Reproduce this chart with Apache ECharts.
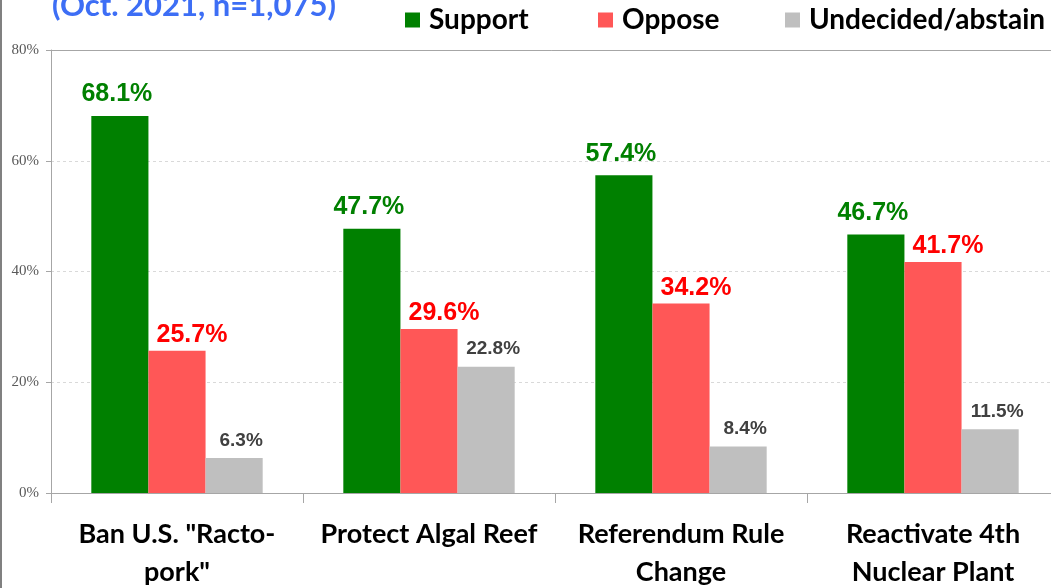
<!DOCTYPE html>
<html>
<head>
<meta charset="utf-8">
<script src="https://cdn.jsdelivr.net/npm/echarts@6/dist/echarts.min.js"></script>
<style>html,body{margin:0;padding:0;background:#fff;}#c{width:1051px;height:588px;}</style>
</head>
<body>
<div id="c"></div>
<script>
const categories = ['Ban U.S. "Racto-\npork"', 'Protect Algal Reef', 'Referendum Rule\nChange', 'Reactivate 4th\nNuclear Plant'];
const support = [68.1, 47.7, 57.4, 46.7];
const oppose = [25.7, 29.6, 34.2, 41.7];
const undecided = [6.3, 22.8, 8.4, 11.5];
const yTicks = [0, 20, 40, 60, 80];
const seriesNames = ['Support', 'Oppose', 'Undecided/abstain'];

const chart = echarts.init(document.getElementById('c'));
const legendFont = { fontFamily: 'Lato', fontWeight: 'bold', fontSize: 28, color: '#000' };
function mkLegend(name, left) {
  return { data: [name], left: left, top: 6, padding: 0, itemWidth: 15, itemHeight: 15, icon: 'rect',
    textStyle: Object.assign({ padding: [0, 0, 0, 4] }, legendFont), selectedMode: false };
}
chart.setOption({
  animation: false,
  graphic: [
    { type: 'rect', left: 0, top: 0, shape: { width: 2, height: 588 }, style: { fill: '#808080' } },
    { type: 'text', x: 52, y: 6, style: { text: '(Oct. 2021, n=1,075)', fill: '#3D6EF5',
      font: 'bold 31px Lato', textAlign: 'left', textVerticalAlign: 'middle' } }
  ],
  legend: [mkLegend(seriesNames[0], 405), mkLegend(seriesNames[1], 598), mkLegend(seriesNames[2], 785)],
  grid: { left: 51, width: 1008, top: 50, bottom: 95, outerBoundsMode: 'none', containLabel: false },
  xAxis: [{
    type: 'category', data: categories,
    axisLine: { lineStyle: { color: '#A6A6A6', width: 1 } },
    axisTick: { show: true, length: 10, lineStyle: { color: '#A6A6A6' } },
    axisLabel: { interval: 0, margin: 22, lineHeight: 38, fontFamily: 'Lato', fontWeight: 'bold', fontSize: 27, color: '#000' }
  }, {
    type: 'category', data: categories, position: 'top',
    axisLine: { show: true, lineStyle: { color: '#A6A6A6' } },
    axisTick: { show: false }, axisLabel: { show: false }
  }],
  yAxis: {
    type: 'value', min: yTicks[0], max: yTicks[yTicks.length - 1], interval: 20,
    axisLine: { show: true, lineStyle: { color: '#A6A6A6' } },
    axisTick: { show: true, length: 5, lineStyle: { color: '#A6A6A6' } },
    axisLabel: { formatter: '{value}%', margin: 12, fontFamily: 'Liberation Serif', fontSize: 15, color: '#595959' },
    splitLine: { show: true, lineStyle: { color: '#D9D9D9', type: [3, 3] } }
  },
  series: [
    { name: seriesNames[0], type: 'bar', data: support, barGap: '0%', barCategoryGap: '32%',
      itemStyle: { color: '#008000' },
      label: { show: true, position: 'top', distance: 9, offset: [-3, 0], formatter: p => p.value.toFixed(1) + '%',
        fontFamily: 'Liberation Sans', fontWeight: 'bold', fontSize: 25, color: '#008000' } },
    { name: seriesNames[1], type: 'bar', data: oppose,
      itemStyle: { color: '#FF5757' },
      label: { show: true, position: 'top', distance: 3, offset: [15, 0], formatter: p => p.value.toFixed(1) + '%',
        fontFamily: 'Liberation Sans', fontWeight: 'bold', fontSize: 25, color: '#FF0000' } },
    { name: seriesNames[2], type: 'bar', data: undecided,
      itemStyle: { color: '#BFBFBF' },
      label: { show: true, position: 'top', distance: 8, offset: [7, 0], formatter: p => p.value.toFixed(1) + '%',
        fontFamily: 'Liberation Sans', fontWeight: 'bold', fontSize: 19, color: '#404040' } }
  ]
});
</script>
</body>
</html>
